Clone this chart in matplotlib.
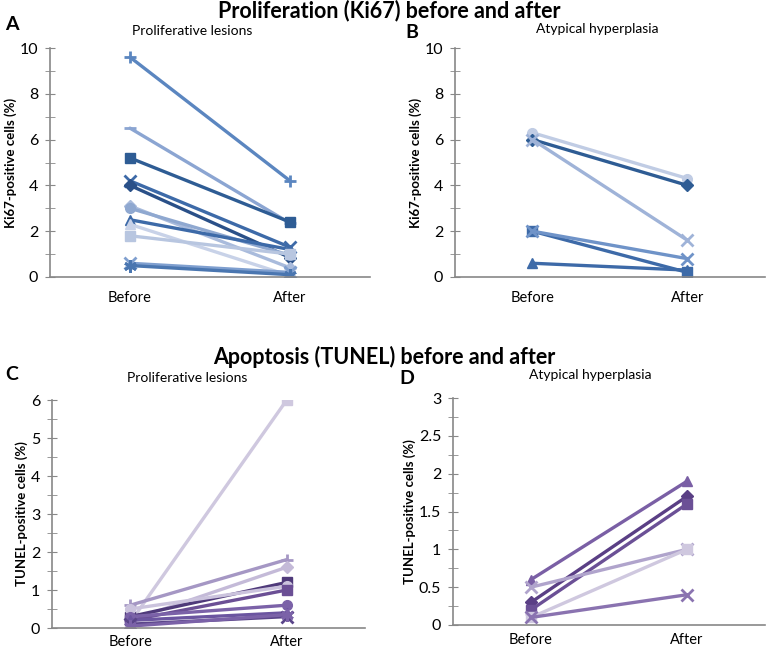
import matplotlib
matplotlib.use("Agg")
import matplotlib.pyplot as plt
from matplotlib.ticker import MultipleLocator

plt.rcParams["font.family"] = ["Lato", "DejaVu Sans"]

CATEGORIES = ["Before", "After"]

# Panel A: Ki67, proliferative lesions
KI67_PROLIF_BEFORE = [9.6, 6.5, 5.2, 4.2, 4.0, 3.1, 3.0, 2.5, 2.3, 1.8, 0.6, 0.5]
KI67_PROLIF_AFTER = [4.2, 2.35, 2.4, 1.3, 0.85, 0.4, 0.95, 1.2, 0.05, 1.0, 0.2, 0.1]
KI67_PROLIF_MARKERS = ["+", "_", "s", "x", "D", "D", "o", "^", "^", "s", "x", (6, 2, 0)]
KI67_PROLIF_COLORS = ["#5b86c0", "#8ba5d2", "#2e5c94", "#3d6aa8", "#2a5088", "#a9bbdc",
                      "#8fa8d0", "#3d6aa8", "#c8d2e8", "#b8c6e0", "#7f9fcf", "#4a76b0"]

# Panel B: Ki67, atypical hyperplasia
KI67_ATYP_BEFORE = [6.3, 6.0, 6.0, 2.0, 2.0, 0.6]
KI67_ATYP_AFTER = [4.3, 4.0, 1.6, 0.2, 0.8, 0.3]
KI67_ATYP_MARKERS = ["o", "D", "x", "s", "x", "^"]
KI67_ATYP_COLORS = ["#c0cce4", "#2e5c94", "#9fb3d8", "#3d6aa8", "#6f93c8", "#3d6aa8"]

# Panel C: TUNEL, proliferative lesions
TUNEL_PROLIF_BEFORE = [0.15, 0.6, 0.2, 0.3, 0.5, 0.2, 0.3, 0.2, 0.1, 0.05]
TUNEL_PROLIF_AFTER = [6.0, 1.8, 1.6, 1.2, 1.1, 1.0, 0.6, 0.4, 0.3, 0.35]
TUNEL_PROLIF_MARKERS = ["s", "+", "D", "s", "o", "s", "o", "^", "x", (6, 2, 0)]
TUNEL_PROLIF_COLORS = ["#cfc8df", "#a597c4", "#c4bad8", "#4f3a7a", "#cbc3dd", "#6b4f95",
                       "#7b62a8", "#6b55a0", "#5a4589", "#7b62a8"]

# Panel D: TUNEL, atypical hyperplasia
TUNEL_ATYP_BEFORE = [0.6, 0.3, 0.2, 0.5, 0.1, 0.1]
TUNEL_ATYP_AFTER = [1.9, 1.7, 1.6, 1.0, 1.0, 0.4]
TUNEL_ATYP_MARKERS = ["^", "D", "s", "x", "s", "x"]
TUNEL_ATYP_COLORS = ["#7a5fa5", "#5a3f85", "#6b5096", "#b0a4cc", "#cfc8df", "#8a73b0"]

W, H = 778, 653


def make_axes(fig, left, right, top, bottom):
    return fig.add_axes([left / W, 1 - bottom / H, (right - left) / W, (bottom - top) / H])


def draw_panel(ax, before, after, markers, colors, ymax, ystep, ylabel, xpad):
    for b, a, m, c in zip(before, after, markers, colors):
        thin = m in ("+", "x", "_") or isinstance(m, tuple)
        ms = 9 if thin else (6 if m == "D" else 7)
        ax.plot([0, 1], [b, a], color=c, lw=2.4, marker=m, ms=ms,
                mew=2 if thin else 1, solid_capstyle="round")
    ax.set_xlim(-0.5, 1.5)
    ax.set_ylim(0, ymax)
    ax.set_xticks([0, 1])
    ax.set_xticklabels(CATEGORIES, fontsize=10.5)
    ax.tick_params(axis="x", length=0, pad=xpad)
    ax.yaxis.set_major_locator(MultipleLocator(ystep))
    ax.yaxis.set_minor_locator(MultipleLocator(ystep / 2))
    ax.yaxis.set_major_formatter("{x:g}")
    ax.tick_params(axis="y", which="both", direction="inout", length=7,
                   color="#888888", labelsize=11.5, pad=5)
    for side in ("top", "right"):
        ax.spines[side].set_visible(False)
    for side in ("left", "bottom"):
        ax.spines[side].set_color("#888888")
        ax.spines[side].set_linewidth(1.2)
    ax.set_ylabel(ylabel, fontsize=9.5, fontweight="bold", labelpad=2)


fig = plt.figure(figsize=(W / 100, H / 100), dpi=100)

axA = make_axes(fig, 50, 370, 48, 277)
draw_panel(axA, KI67_PROLIF_BEFORE, KI67_PROLIF_AFTER, KI67_PROLIF_MARKERS,
           KI67_PROLIF_COLORS, 10, 2, "Ki67-positive cells (%)", 10)
axB = make_axes(fig, 455, 765, 48, 277)
draw_panel(axB, KI67_ATYP_BEFORE, KI67_ATYP_AFTER, KI67_ATYP_MARKERS,
           KI67_ATYP_COLORS, 10, 2, "Ki67-positive cells (%)", 10)
axC = make_axes(fig, 52, 365, 400, 628)
draw_panel(axC, TUNEL_PROLIF_BEFORE, TUNEL_PROLIF_AFTER, TUNEL_PROLIF_MARKERS,
           TUNEL_PROLIF_COLORS, 6, 1, "TUNEL-positive cells (%)", 5)
axD = make_axes(fig, 453, 765, 398, 625)
draw_panel(axD, TUNEL_ATYP_BEFORE, TUNEL_ATYP_AFTER, TUNEL_ATYP_MARKERS,
           TUNEL_ATYP_COLORS, 3, 0.5, "TUNEL-positive cells (%)", 6)

# titles and panel labels
fig.text(389 / W, 1 - 11 / H, "Proliferation (Ki67) before and after", ha="center",
         va="center", fontsize=15.5, fontweight="bold")
fig.text(384 / W, 1 - 357 / H, "Apoptosis (TUNEL) before and after", ha="center",
         va="center", fontsize=15.5, fontweight="bold")
for x, y, s in [(12, 25, "A"), (412, 33, "B"), (12, 375, "C"), (407, 378, "D")]:
    fig.text(x / W, 1 - y / H, s, ha="center", va="center", fontsize=14, fontweight="bold")
for x, y, s in [(192, 31, "Proliferative lesions"), (597, 29, "Atypical hyperplasia"),
                (187, 378, "Proliferative lesions"), (590, 375, "Atypical hyperplasia")]:
    fig.text(x / W, 1 - y / H, s, ha="center", va="center", fontsize=10)

fig.savefig("out.png", dpi=100)
